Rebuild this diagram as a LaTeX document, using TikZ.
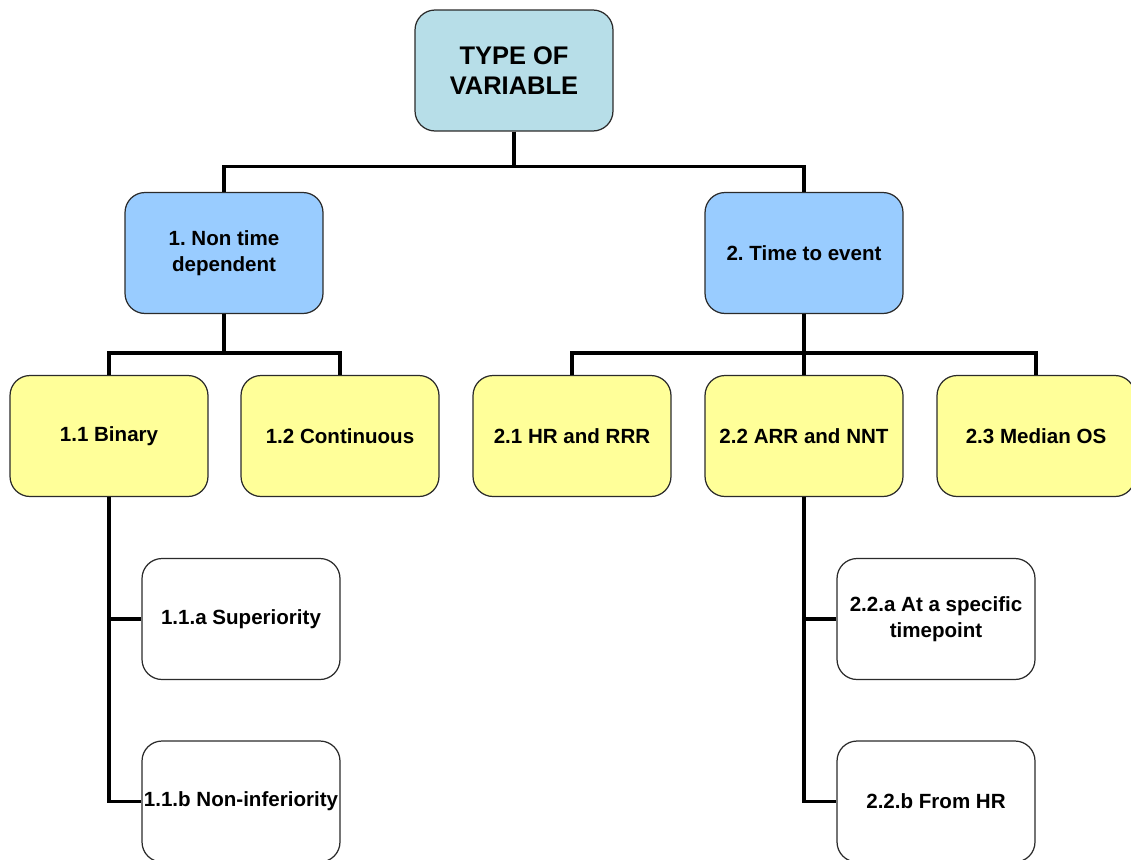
\documentclass[tikz,border=0pt]{standalone}
\usepackage{fontspec}
\setmainfont{Liberation Sans}
\usetikzlibrary{positioning,calc}
\definecolor{tealtop}{HTML}{B7DEE8}
\definecolor{skyblue}{HTML}{99CCFF}
\definecolor{paleyellow}{HTML}{FFFF99}
\definecolor{rimgray}{HTML}{2B2B2B}
\tikzset{
  box/.style={rectangle, rounded corners=0.4cm, draw=rimgray, fill=white, line width=0.7pt,
              align=center, inner sep=2pt, minimum width=3.96cm, minimum height=2.42cm,
              font=\fontsize{11.7}{14.7}\selectfont\bfseries},
  rootbox/.style={box, fill=tealtop, font=\fontsize{14.5}{17}\selectfont\bfseries},
  classbox/.style={box, fill=skyblue},
  measbox/.style={box, fill=paleyellow},
  leafbox/.style={box},
  link/.style={draw=black, line width=2pt}
}
\frenchspacing
\begin{document}
\begin{tikzpicture}[x=0.02cm, y=-0.02cm]
 \useasboundingbox (0,0) rectangle (1131,859);
 \clip (0,0) rectangle (1131,859);
 \node[rootbox] (root) at (514,70.5) {TYPE OF\\VARIABLE};
 \node[classbox] (nontime) at (224,253) {1. Non time\\dependent};
 \node[classbox] (tte) at (804,253) {2. Time to event};

 \node[measbox] (bin) at (109,436) {1.1 Binary};
 \node[measbox] (cont) at (340,436) {1.2 Continuous};
 \node[measbox] (hr) at (572,436) {2.1 HR and RRR};
 \node[measbox] (arr) at (804,436) {2.2 ARR and NNT};
 \node[measbox] (med) at (1036,436) {2.3 Median OS};

 \node[leafbox] (sup) at (241,619) {1.1.a Superiority};
 \node[leafbox, inner xsep=0pt] (noninf) at (241,801.5) {1.1.b Non-inferiority};
 \node[leafbox] (spec) at (936,619) {2.2.a At a specific\\timepoint};
 \node[leafbox] (fromhr) at (936,801.5) {2.2.b From HR};

 % tree lines
 \draw[link] (root.south) -- ++(0,35) -| (nontime.north);
 \draw[link] (root.south) -- ++(0,35) -| (tte.north);
 \draw[link] (nontime.south) -- ++(0,39) -| (bin.north);
 \draw[link] (nontime.south) -- ++(0,39) -| (cont.north);
 \draw[link] (tte.south) -- ++(0,39) -| (hr.north);
 \draw[link] (tte.south) -- (arr.north);
 \draw[link] (tte.south) -- ++(0,39) -| (med.north);
 \draw[link] (bin.south) |- (sup.west);
 \draw[link] (bin.south) |- (noninf.west);
 \draw[link] (arr.south) |- (spec.west);
 \draw[link] (arr.south) |- (fromhr.west);
\end{tikzpicture}
\end{document}
